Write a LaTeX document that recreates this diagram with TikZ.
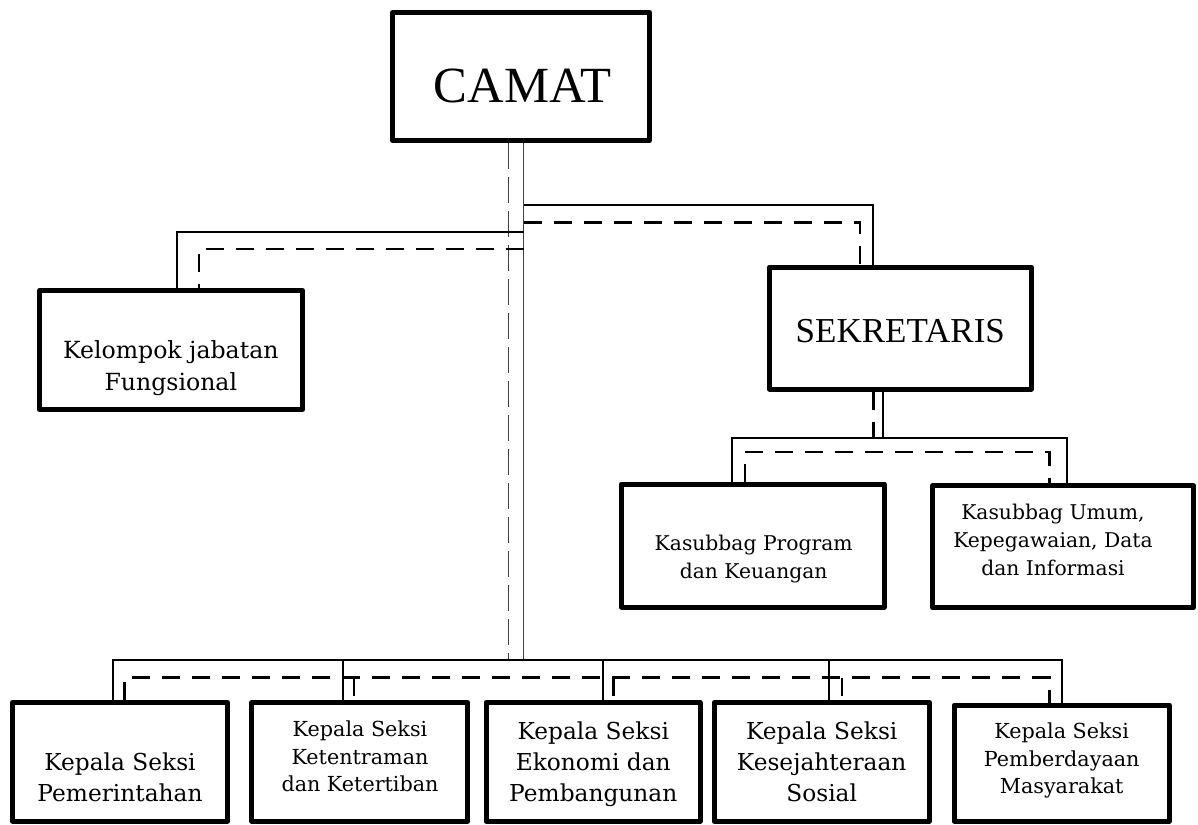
\documentclass[tikz,border=0pt]{standalone}
\usepackage{fontspec}
\setmainfont{DejaVu Serif}
\newfontfamily\timesfont{Liberation Serif}
\tikzstyle{box} = [rectangle, draw=black, line width=5pt, line join=round, inner sep=0pt]
\tikzstyle{txt} = [align=center, inner sep=0pt, anchor=north]
\tikzstyle{line} = [line width=2pt]
\tikzstyle{dline} = [line width=2.4pt, dash pattern=on 18pt off 12pt]
\tikzstyle{trunk} = [draw=black!75, line width=0.6pt, double=white, double distance=0.9pt]
\tikzstyle{dtrunk} = [trunk, dash pattern=on 26pt off 8pt]

\begin{document}
\begin{tikzpicture}[x=1pt, y=-1pt]
\useasboundingbox (0,0) rectangle (1198,824);

% boxes
\node[box, minimum width=257, minimum height=128] (camat) at (521,76.5) {};
\node[box, minimum width=263, minimum height=119] (kel) at (171,350) {};
\node[box, minimum width=262, minimum height=122] (sek) at (900.3,328) {};
\node[box, minimum width=263, minimum height=123] (prog) at (752.8,545.5) {};
\node[box, minimum width=261, minimum height=122] (umum) at (1063,546.7) {};

\node[box, minimum width=215, minimum height=118.5] (s1) at (120,761.8) {};
\node[box, minimum width=216, minimum height=118.5] (s2) at (359.7,761.8) {};
\node[box, minimum width=214, minimum height=118.5] (s3) at (593,761.8) {};
\node[box, minimum width=215, minimum height=118.5] (s4) at (821.7,761.8) {};
\node[box, minimum width=215, minimum height=116] (s5) at (1061.7,763) {};

% texts
\node[anchor=base, inner sep=0pt, font=\timesfont\fontsize{50.7}{56}\selectfont] (camat-t) at (522.5,102.3) {CAMAT};
\node[anchor=base, inner sep=0pt, font=\timesfont\fontsize{35}{40}\selectfont] (sek-t) at (900.3,342.7) {SEKRETARIS};
\node[txt, font=\fontsize{23.6}{31.7}\selectfont] (kel-t) at (170.8,340.4) {Kelompok jabatan\\Fungsional};
\node[txt, font=\fontsize{20.3}{28.3}\selectfont] (prog-t) at (753.7,534.6) {Kasubbag Program\\dan Keuangan};
\node[txt, font=\fontsize{20.3}{28}\selectfont] (umum-t) at (1053,503.9) {Kasubbag Umum,\\Kepegawaian, Data\\dan Informasi};
\node[txt, font=\fontsize{23.3}{31.7}\selectfont] (s1-t) at (120,752.3) {Kepala Seksi\\Pemerintahan};
\node[txt, font=\fontsize{20.7}{27.5}\selectfont] (s2-t) at (360,721) {Kepala Seksi\\Ketentraman\\dan Ketertiban};
\node[txt, font=\fontsize{23.3}{31.2}\selectfont] (s3-t) at (593.3,721.6) {Kepala Seksi\\Ekonomi dan\\Pembangunan};
\node[txt, font=\fontsize{23.3}{31.2}\selectfont] (s4-t) at (821.7,721.6) {Kepala Seksi\\Kesejahteraan\\Sosial};
\node[txt, font=\fontsize{20.7}{27.5}\selectfont] (s5-t) at (1061.7,722.6) {Kepala Seksi\\Pemberdayaan\\Masyarakat};

% junction points
\coordinate (jT) at (524,660);
\coordinate (jTd) at (509,660);
\coordinate (rS) at (873,204.5);
\coordinate (rD) at (860,222.3);
\coordinate (lS) at (177,231.7);
\coordinate (lD) at (199,249);
\coordinate (sS) at (883.3,438.3);
\coordinate (sD) at (873.3,436.7);
\coordinate (pS) at (731.7,438.3);
\coordinate (uS) at (1066.7,438.3);
\coordinate (pD) at (745,451.7);
\coordinate (uD) at (1049.3,451.7);
\coordinate (jS1) at (113.3,660);
\coordinate (jS2) at (342.7,660);
\coordinate (jS3) at (602.7,660);
\coordinate (jS4) at (829.3,660);
\coordinate (jS5) at (1061.7,660);
\coordinate (jD1) at (124.3,677.5);
\coordinate (jD2) at (354,677.5);
\coordinate (jD3) at (613.3,677.5);
\coordinate (jD4) at (841.7,677.5);
\coordinate (jD5) at (1049.3,677.5);

% trunk from camat
\draw[trunk] (jT |- camat.south) -- (jT);
\draw[dtrunk] (jTd |- camat.south) -- (jTd);

% solid lines
\draw[line]
	(jT |- rS) -- (rS) -- (rS |- sek.north)
	(jT |- lS) -- (lS) -- (lS |- kel.north)
	(sS |- sek.south) -- (sS)
	(pS |- prog.north) -- (pS) -- (uS) -- (uS |- umum.north)
	(jS1 |- s1.north) -- (jS1) -- (jS5) -- (jS5 |- s5.north)
	(jS2) -- (jS2 |- s2.north)
	(jS3) -- (jS3 |- s3.north)
	(jS4) -- (jS4 |- s4.north)
;

% dashed lines
\draw[dline]
	(jT |- rD) -- (rD) -- (rD |- sek.north)
	(jT |- lD) -- (lD) -- (lD |- kel.north)
	(sD |- sek.south) -- (sD)
	(pD |- prog.north) -- (pD) -- (uD) -- (uD |- umum.north)
	(jD1 |- s1.north) -- (jD1) -- (jD5) -- (jD5 |- s5.north)
	(jD2) -- (jD2 |- s2.north)
	(jD3) -- (jD3 |- s3.north)
	(jD4) -- (jD4 |- s4.north)
;

\end{tikzpicture}
\end{document}
